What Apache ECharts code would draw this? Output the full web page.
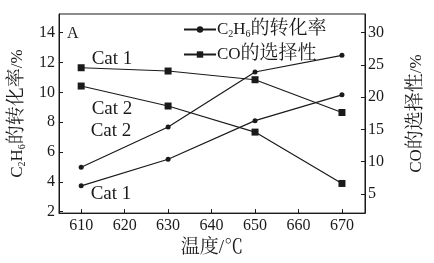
<!DOCTYPE html>
<html>
<head>
<meta charset="utf-8">
<script src="https://cdn.jsdelivr.net/npm/echarts@6/dist/echarts.min.js"></script>
<style>
  html, body { margin: 0; padding: 0; background: #fff; }
  #main { width: 434px; height: 263px; }
</style>
</head>
<body>
<div id="main"></div>
<script>
// 温度 (x)
const temps = [610, 630, 650, 670];
// C2H6 转化率 / % (left axis)
const convCat1 = [3.73, 5.51, 8.10, 9.83];
const convCat2 = [4.97, 7.67, 11.36, 12.48];
// CO 选择性 / % (right axis)
const selCat1 = [24.56, 24.05, 22.7, 17.61];
const selCat2 = [21.72, 18.62, 14.57, 6.6];
// tick labels
const xTicks = [610, 620, 630, 640, 650, 660, 670];
const leftTicks = [2, 4, 6, 8, 10, 12, 14];
const rightTicks = [5, 10, 15, 20, 25, 30];

const convName = 'C2H6的转化率';
const selName = 'CO的选择性';

const font = "'Liberation Serif', 'Noto Serif CJK SC', 'Noto Sans CJK SC', serif";
const ink = '#1a1a1a';
const rich = {
  t: { fontFamily: font, fontSize: 17, color: ink },
  c: { fontFamily: font, fontSize: 19, color: ink },
  s: { fontFamily: font, fontSize: 10, color: ink, verticalAlign: 'bottom', padding: [9, 0, 0, 0] }
};

function makeData(vals, tag, dy) {
  return temps.map((t, i) => {
    if (i !== 0) return [t, vals[i]];
    return {
      value: [t, vals[i]],
      label: {
        show: true, position: 'right', distance: 7, offset: [0, dy],
        formatter: tag, fontFamily: font, fontSize: 19, color: ink
      }
    };
  });
}

function lineSeries(name, vals, yIdx, symbol, size, tag, dy) {
  return {
    name: name, type: 'line', yAxisIndex: yIdx,
    symbol: symbol, symbolSize: size,
    lineStyle: { color: ink, width: 1.2 },
    itemStyle: { color: ink },
    data: makeData(vals, tag, dy),
    z: 3
  };
}

const tickFont = { fontFamily: font, fontSize: 16, color: ink };

const chart = echarts.init(document.getElementById('main'), null, { renderer: 'canvas' });
chart.setOption({
  backgroundColor: '#fff',
  animation: false,
  textStyle: { fontFamily: font, color: ink },
  grid: { left: 59, right: 52, top: 14, bottom: 43, show: true, borderColor: ink, borderWidth: 1 },
  legend: {
    orient: 'vertical', left: 178, top: 15, itemGap: 6,
    itemWidth: 32, itemHeight: 8,
    data: [convName, selName],
    formatter: n => n === convName ? '{t|C}{s|2}{t|H}{s|6}{c|的转化率}' : '{t|CO}{c|的选择性}',
    textStyle: { rich: rich, padding: [0, 0, 0, -4] }
  },
  graphic: [{
    type: 'text', left: 67, top: 26,
    style: { text: 'A', font: '16px ' + font, fill: ink }
  }],
  xAxis: {
    type: 'value', min: 604.9, max: 675.3,
    name: '{c|温度/℃}', nameLocation: 'middle', nameGap: 25,
    nameTextStyle: { rich: rich },
    axisLine: { lineStyle: { color: ink } },
    axisTick: { inside: true, length: 4, customValues: xTicks, lineStyle: { color: ink } },
    axisLabel: Object.assign({ customValues: xTicks, margin: 5 }, tickFont),
    splitLine: { show: false }
  },
  yAxis: [{
    type: 'value', min: 1.9, max: 15.25, position: 'left',
    name: '{t|C}{s|2}{t|H}{s|6}{c|的转化率}{t|/%}', nameLocation: 'middle', nameRotate: 90, nameGap: 32,
    nameTextStyle: { rich: rich },
    axisLine: { show: true, lineStyle: { color: ink } },
    axisTick: { inside: true, length: 4, customValues: leftTicks, lineStyle: { color: ink } },
    axisLabel: Object.assign({ customValues: leftTicks, margin: 4 }, tickFont),
    splitLine: { show: false }
  }, {
    type: 'value', min: 2, max: 32.9, position: 'right',
    name: '{t|CO}{c|的选择性}{t|/%}', nameLocation: 'middle', nameRotate: 90, nameGap: 42,
    nameTextStyle: { rich: rich },
    axisLine: { show: true, lineStyle: { color: ink } },
    axisTick: { inside: true, length: 4, customValues: rightTicks, lineStyle: { color: ink } },
    axisLabel: Object.assign({ customValues: rightTicks, margin: 3 }, tickFont),
    splitLine: { show: false }
  }],
  series: [
    lineSeries(convName, convCat1, 0, 'circle', 5, 'Cat 1', 8),
    lineSeries(convName, convCat2, 0, 'circle', 5, 'Cat 2', -36),
    lineSeries(selName, selCat1, 1, 'rect', 7, 'Cat 1', -9),
    lineSeries(selName, selCat2, 1, 'rect', 7, 'Cat 2', 23)
  ]
});
</script>
</body>
</html>
